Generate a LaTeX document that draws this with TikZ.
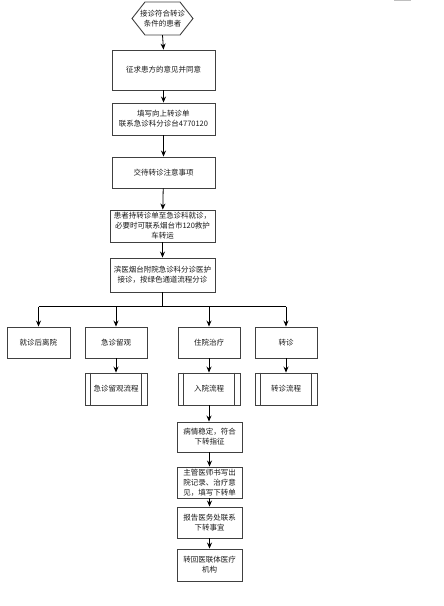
\documentclass[tikz,border=0pt]{standalone}
\usepackage{fontspec}
\newfontfamily\cjk{Noto Sans CJK SC}
\usetikzlibrary{arrows.meta,calc}
\tikzset{
  txt/.style={font=\cjk\fontsize{7.5}{10}\selectfont, text=black!90, align=center, inner sep=0pt},
  box/.style={txt, draw=black!75, line width=0.9pt, fill=white},
  sub/.style={box, minimum width=62pt, minimum height=32pt},
  arr/.style={draw=black, line width=0.8pt, -{Stealth[length=6pt,width=5pt]}},
  ln/.style={draw=black, line width=0.8pt},
}
\begin{document}
\begin{tikzpicture}[x=1pt,y=-1pt]
\useasboundingbox (0,0) rectangle (444,606);
\draw[black!25, line width=1pt] (394,0.5) -- (411,0.5);
% hexagon start
\node[txt, minimum width=61pt, minimum height=33pt] (n0) at (162.5,18.5) {接诊符合转诊\\条件的患者};
\draw[draw=black!75, line width=0.9pt]
  (145,2) -- (180,2) -- (193,18.5) -- (180,35) -- (145,35) -- (132,18.5) -- cycle;
\node[box, minimum width=103pt, minimum height=40pt] (n1) at (163.5,70) {征求患方的意见并同意};
\node[box, minimum width=103pt, minimum height=32pt] (n2) at (163.5,119) {填写向上转诊单\\联系急诊科分诊台4770120};
\node[box, minimum width=103pt, minimum height=31pt] (n3) at (163.5,172.5) {交待转诊注意事项};
\node[box, minimum width=105pt, minimum height=32pt] (n4) at (162.5,226) {患者持转诊单至急诊科就诊，\\必要时可联系烟台市120救护\\车转运};
\node[box, minimum width=105pt, minimum height=34pt] (n5) at (162.5,275) {滨医烟台附院急诊科分诊医护\\接诊，按绿色通道流程分诊};
% row
\node[box, minimum width=63pt, minimum height=31pt] (A) at (38.5,342.5) {就诊后离院};
\node[box, minimum width=62pt, minimum height=31pt] (B) at (116,342.5) {急诊留观};
\node[box, minimum width=62pt, minimum height=31pt] (C) at (209,342.5) {住院治疗};
\node[box, minimum width=62pt, minimum height=31pt] (D) at (286,342.5) {转诊};
% subprocess
\node[sub] (B2) at (116,389) {急诊留观流程};
\node[sub] (C2) at (209,389) {入院流程};
\node[sub] (D2) at (286,389) {转诊流程};
\foreach \s in {B2,C2,D2}{
  \draw[draw=black!75, line width=0.9pt] ($(\s.north west)+(6,0)$) -- ($(\s.south west)+(6,0)$);
  \draw[draw=black!75, line width=0.9pt] ($(\s.north east)+(-6,0)$) -- ($(\s.south east)+(-6,0)$);
}
% column C
\node[box, minimum width=65pt, minimum height=30pt] (c1) at (209.5,437) {病情稳定，符合\\下转指征};
\node[box, minimum width=65pt, minimum height=31pt] (c2) at (209.5,482.5) {主管医师书写出\\院记录、治疗意\\见，填写下转单};
\node[box, minimum width=65pt, minimum height=31pt] (c3) at (209.5,522.5) {报告医务处联系\\下转事宜};
\node[box, minimum width=65pt, minimum height=32pt] (c4) at (209.5,565) {转回医联体医疗\\机构};
% connectors
\draw[arr] (n0.south) -- (n1.north);
\draw[arr] (n1) -- (n2);
\draw[arr] (n2) -- (n3);
\draw[arr] (n3) -- (n4);
\draw[arr] (n4) -- (n5);
\coordinate (j) at (162.5,306.5);
\coordinate (jl) at (38.5,306.5);
\coordinate (jr) at (286,306.5);
\draw[ln] (n5.south) -- (j);
\draw[ln] (jl) -- (jr);
\draw[arr] (jl) -- (A.north);
\draw[arr] (B.north|-j) -- (B.north);
\draw[arr] (C.north|-j) -- (C.north);
\draw[arr] (jr) -- (D.north);
\draw[arr] (B) -- (B2);
\draw[arr] (C) -- (C2);
\draw[arr] (D) -- (D2);
\draw[arr] (C2.south) -- (c1.north-|C2.south);
\draw[arr] (c1) -- (c2);
\draw[arr] (c2) -- (c3);
\draw[arr] (c3) -- (c4);
\end{tikzpicture}
\end{document}
